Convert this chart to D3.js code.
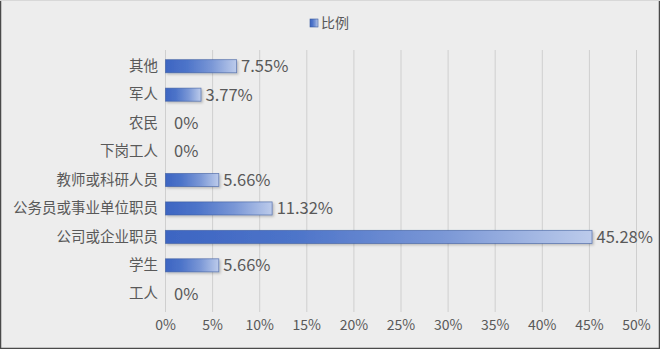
<!DOCTYPE html>
<html>
<head>
<meta charset="utf-8">
<script src="https://cdn.jsdelivr.net/npm/d3@7"></script>
<style>
  html, body { margin: 0; padding: 0; background: #ededed; }
  svg { display: block; }
  text { font-family: "Noto Sans CJK SC", "Noto Sans", sans-serif; fill: #595959; }
</style>
</head>
<body>
<svg id="chart" width="660" height="349"></svg>
<script>
// Occupation breakdown (percent), top to bottom
const categories = ["其他", "军人", "农民", "下岗工人", "教师或科研人员", "公务员或事业单位职员", "公司或企业职员", "学生", "工人"];
const values = [7.55, 3.77, 0, 0, 5.66, 11.32, 45.28, 5.66, 0];
const xTicks = [0, 5, 10, 15, 20, 25, 30, 35, 40, 45, 50];
const seriesName = "比例";

const W = 660, H = 349;
const svg = d3.select("#chart");

// frame
svg.append("rect").attr("x", 0).attr("y", 0).attr("width", W).attr("height", H).attr("fill", "#ededed");
svg.append("line").attr("x1", 0.5).attr("x2", 0.5).attr("y1", 0).attr("y2", H).attr("stroke", "#4a4a4a").attr("stroke-width", 1.5);
svg.append("line").attr("x1", W - 0.5).attr("x2", W - 0.5).attr("y1", 0).attr("y2", H).attr("stroke", "#4a4a4a").attr("stroke-width", 1.5);
svg.append("line").attr("x1", 0).attr("x2", W).attr("y1", H - 0.5).attr("y2", H - 0.5).attr("stroke", "#4a4a4a").attr("stroke-width", 1.5);
svg.append("line").attr("x1", 0).attr("x2", W).attr("y1", 0.5).attr("y2", 0.5).attr("stroke", "#d8d8d8");

const x = d3.scaleLinear().domain([0, 50]).range([165, 636]);
const y = d3.scaleBand().domain(categories).range([52, 308]).paddingInner(0.54).paddingOuter(0.27);

const defs = svg.append("defs");
const grad = defs.append("linearGradient").attr("id", "barFill")
  .attr("x1", "0%").attr("x2", "100%").attr("y1", "0%").attr("y2", "0%");
grad.append("stop").attr("offset", "0%").attr("stop-color", "#3d65c2");
grad.append("stop").attr("offset", "30%").attr("stop-color", "#4d74c9");
grad.append("stop").attr("offset", "65%").attr("stop-color", "#7a97d6");
grad.append("stop").attr("offset", "100%").attr("stop-color", "#bccbeb");
const shadow = defs.append("filter").attr("id", "barShadow").attr("x", "-10%").attr("y", "-50%").attr("width", "130%").attr("height", "220%");
shadow.append("feDropShadow").attr("dx", 1.5).attr("dy", 1.5).attr("stdDeviation", 1.2).attr("flood-color", "#000").attr("flood-opacity", 0.22);

// vertical gridlines
svg.append("g").selectAll("line").data(xTicks).join("line")
  .attr("x1", d => x(d) + 0.5).attr("x2", d => x(d) + 0.5)
  .attr("y1", 50).attr("y2", 312)
  .attr("stroke", "#cfcfcf").attr("stroke-width", 1);

// x axis tick labels
const xAxis = d3.axisBottom(x).tickValues(xTicks).tickSize(0).tickPadding(0).tickFormat(d => d + "%");
const gx = svg.append("g").attr("transform", `translate(0, 320)`).call(xAxis);
gx.select(".domain").remove();
gx.selectAll("text").attr("font-size", 14).attr("dy", "0.71em").attr("font-family", null);

// category labels
const yAxis = d3.axisLeft(y).tickSize(0).tickPadding(0);
const gy = svg.append("g").attr("transform", `translate(158, 0)`).call(yAxis);
gy.select(".domain").remove();
gy.selectAll("text").attr("font-size", 14.5).attr("font-family", null);

// bars
svg.append("g").selectAll("rect").data(categories).join("rect")
  .filter((d, i) => values[i] > 0)
  .attr("x", x(0) + 0.5)
  .attr("y", d => y(d))
  .attr("width", d => x(values[categories.indexOf(d)]) - x(0))
  .attr("height", y.bandwidth())
  .attr("fill", "url(#barFill)")
  .attr("stroke", "#3a5a9e").attr("stroke-width", 0.8).attr("stroke-opacity", 0.7)
  .attr("filter", "url(#barShadow)");

// value labels
svg.append("g").selectAll("text").data(categories).join("text")
  .attr("x", (d, i) => x(values[i]) + (values[i] > 0 ? 5 : 9))
  .attr("y", d => y(d) + y.bandwidth() / 2)
  .attr("dy", "0.36em")
  .attr("font-size", 16.5)
  .text((d, i) => (values[i] === 0 ? "0" : values[i].toFixed(2)) + "%");

// legend
const lg = svg.append("g").attr("transform", "translate(310, 19)");
lg.append("rect").attr("width", 8).attr("height", 8).attr("fill", "url(#barFill)").attr("stroke", "#3a5a9e").attr("stroke-width", 0.6);
lg.append("text").attr("x", 11).attr("y", 4).attr("dy", "0.36em").attr("font-size", 14).text(seriesName);
</script>
</body>
</html>
